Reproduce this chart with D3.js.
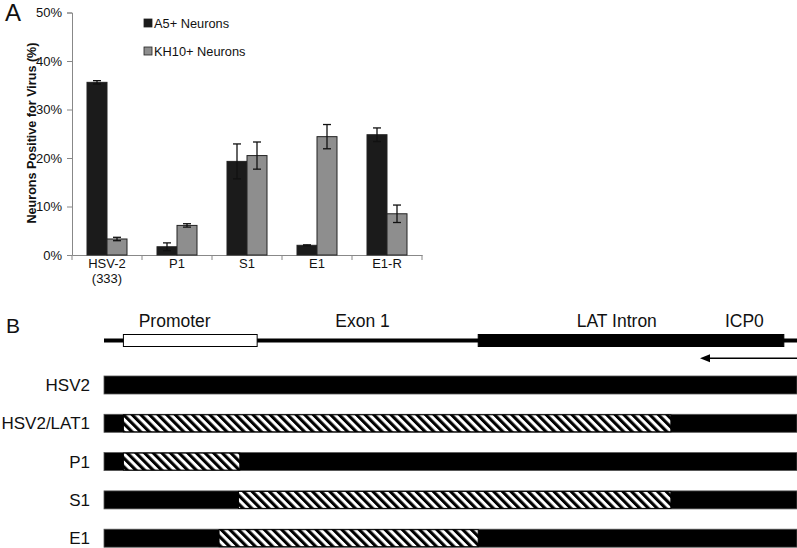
<!DOCTYPE html>
<html>
<head>
<meta charset="utf-8">
<script src="https://cdn.jsdelivr.net/npm/d3@7"></script>
<style>
  body { margin: 0; background: #fff; }
  text { font-family: "Liberation Sans", Arial, sans-serif; }
</style>
</head>
<body>
<svg width="797" height="548"></svg>
<script>
// panel A data
const viruses = ["HSV-2|(333)", "P1", "S1", "E1", "E1-R"];
const seriesNames = ["A5+ Neurons", "KH10+ Neurons"];
const a5Values = [35.6, 1.7, 19.3, 2.0, 24.8];
const a5Errors = [0.35, 0.8, 3.6, 0.1, 1.4];
const kh10Values = [3.3, 6.1, 20.5, 24.4, 8.5];
const kh10Errors = [0.35, 0.35, 2.8, 2.5, 1.8];
const yTicks = [0, 10, 20, 30, 40, 50];

// panel B data (map units 0-100)
const mapFeatures = [
  { name: "Promoter", start: 2.8, end: 22.1, fill: "#fff", label: 10.2 },
  { name: "LAT Intron", start: 54.0, end: 98.1, fill: "#000", label: 74.0 }
];
const mapLabels = [{ name: "Exon 1", pos: 37.3 }, { name: "ICP0", pos: 92.4 }];
const arrowSpan = [100, 86.0];
const constructs = ["HSV2", "HSV2/LAT1", "P1", "S1", "E1"];
const hatchStart = [null, 2.8, 2.8, 19.4, 16.6];
const hatchEnd = [null, 81.8, 19.6, 81.8, 54.0];

const svg = d3.select("svg");
const colors = ["#1b1b1b", "#8e8e8e"];

// ---------- panel A ----------
const x = d3.scaleBand().domain(viruses).range([72, 422]);
const xs = d3.scaleBand().domain(seriesNames).range([0, 40]);
const y = d3.scaleLinear().domain([0, 50]).range([255, 12.5]);

const gA = svg.append("g");

const yAxis = gA.append("g")
    .attr("transform", "translate(72,0)")
    .call(d3.axisLeft(y).tickValues(yTicks).tickSize(5).tickFormat(d => d + "%"));
const xAxis = gA.append("g")
    .attr("transform", "translate(0,255)")
    .call(d3.axisBottom(x).tickSize(0).tickFormat(""));
// tick marks between categories
xAxis.selectAll(".sep")
    .data(viruses.map(v => x(v)).concat([x.range()[1]]))
    .enter().append("line")
    .attr("x1", d => d).attr("x2", d => d)
    .attr("y1", 0).attr("y2", 5)
    .attr("stroke", "#888");
[yAxis, xAxis].forEach(a => {
  a.select(".domain").attr("stroke", "#888");
  a.selectAll(".tick line").attr("stroke", "#888");
  a.selectAll(".tick text").attr("font-size", 13).attr("fill", "#111");
});
yAxis.selectAll(".tick text").attr("x", -10);

// category labels (multi-line)
gA.selectAll(".xlab")
    .data(viruses)
    .enter().append("text")
    .attr("x", d => x(d) + x.bandwidth() / 2)
    .attr("y", 268)
    .attr("text-anchor", "middle")
    .attr("font-size", 13)
    .attr("fill", "#111")
    .each(function (d) {
      d.split("|").forEach((line, i) => {
        d3.select(this).append("tspan")
          .attr("x", x(d) + x.bandwidth() / 2)
          .attr("dy", i === 0 ? 0 : 15)
          .text(line);
      });
    });

const bars = [];
viruses.forEach((v, i) => {
  bars.push({ v, s: seriesNames[0], val: a5Values[i], err: a5Errors[i], c: colors[0] });
  bars.push({ v, s: seriesNames[1], val: kh10Values[i], err: kh10Errors[i], c: colors[1] });
});
const barX = d => x(d.v) + 15 + xs(d.s);

gA.selectAll(".bar")
    .data(bars)
    .enter().append("rect")
    .attr("x", barX)
    .attr("y", d => y(d.val))
    .attr("width", xs.bandwidth())
    .attr("height", d => y(0) - y(d.val))
    .attr("fill", d => d.c)
    .attr("stroke", "#222")
    .attr("stroke-width", 1);

const eb = gA.selectAll(".err").data(bars).enter().append("g")
    .attr("stroke", "#111").attr("stroke-width", 1.3);
eb.append("line")
    .attr("x1", d => barX(d) + xs.bandwidth() / 2).attr("x2", d => barX(d) + xs.bandwidth() / 2)
    .attr("y1", d => y(d.val + d.err)).attr("y2", d => y(d.val - d.err));
eb.append("line")
    .attr("x1", d => barX(d) + xs.bandwidth() / 2 - 4).attr("x2", d => barX(d) + xs.bandwidth() / 2 + 4)
    .attr("y1", d => y(d.val + d.err)).attr("y2", d => y(d.val + d.err));
eb.append("line")
    .attr("x1", d => barX(d) + xs.bandwidth() / 2 - 4).attr("x2", d => barX(d) + xs.bandwidth() / 2 + 4)
    .attr("y1", d => y(d.val - d.err)).attr("y2", d => y(d.val - d.err));

// legend
const leg = gA.selectAll(".leg").data(seriesNames).enter().append("g")
    .attr("transform", (d, i) => `translate(144,${19 + i * 28})`);
leg.append("rect").attr("width", 8).attr("height", 8)
    .attr("fill", (d, i) => colors[i]).attr("stroke", "#222").attr("stroke-width", 0.8);
leg.append("text").attr("x", 10).attr("y", 8.5).attr("font-size", 12.8).attr("fill", "#111").text(d => d);

// y label
gA.append("text")
    .attr("transform", "translate(36,133) rotate(-90)")
    .attr("text-anchor", "middle")
    .attr("font-size", 12.6)
    .attr("font-weight", "bold")
    .attr("fill", "#111")
    .text("Neurons Positive for Virus (%)");

svg.append("text").attr("x", 5).attr("y", 21).attr("font-size", 24)
    .attr("font-family", "Open Sans, sans-serif").attr("fill", "#111").text("A");
svg.append("text").attr("x", 6).attr("y", 333).attr("font-size", 21)
    .attr("font-family", "Open Sans, sans-serif").attr("fill", "#111").text("B");

// ---------- panel B ----------
const m = d3.scaleLinear().domain([0, 100]).range([104, 797]);
const rowY = d3.scaleBand().domain(constructs).range([376, 547.2]).paddingInner(0.53).paddingOuter(0);

const defs = svg.append("defs");
const pat = defs.append("pattern")
    .attr("id", "hatch")
    .attr("patternUnits", "userSpaceOnUse")
    .attr("width", 6.1).attr("height", 8)
    .attr("patternTransform", "rotate(-45)");
pat.append("rect").attr("width", 6.1).attr("height", 8).attr("fill", "#fff");
pat.append("rect").attr("width", 3.1).attr("height", 8).attr("fill", "#000");

const gB = svg.append("g");
// backbone line
gB.append("line")
    .attr("x1", m(0)).attr("x2", m(100))
    .attr("y1", 340.5).attr("y2", 340.5)
    .attr("stroke", "#000").attr("stroke-width", 4);
gB.selectAll(".feat").data(mapFeatures).enter().append("rect")
    .attr("x", d => m(d.start)).attr("y", 334.5)
    .attr("width", d => m(d.end) - m(d.start)).attr("height", 12)
    .attr("fill", d => d.fill).attr("stroke", "#000").attr("stroke-width", 1);
gB.selectAll(".flab").data(mapFeatures.map(d => ({ name: d.name, pos: d.label })).concat(mapLabels))
    .enter().append("text")
    .attr("x", d => m(d.pos)).attr("y", 327)
    .attr("text-anchor", "middle").attr("font-size", 17.5).attr("fill", "#111")
    .text(d => d.name);

// arrow pointing left
const ax0 = m(arrowSpan[0]), ax1 = m(arrowSpan[1]);
gB.append("line")
    .attr("x1", ax0).attr("x2", ax1 + 8)
    .attr("y1", 358.3).attr("y2", 358.3)
    .attr("stroke", "#000").attr("stroke-width", 1.4);
gB.append("path")
    .attr("d", `M${ax1},358.3 L${ax1 + 10},354.3 L${ax1 + 10},362.3 Z`)
    .attr("fill", "#000");

// construct rows
gB.selectAll(".row").data(constructs).enter().append("rect")
    .attr("x", m(0)).attr("y", d => rowY(d))
    .attr("width", m(100) - m(0)).attr("height", rowY.bandwidth())
    .attr("fill", "#000").attr("stroke", "#555").attr("stroke-width", 0.8);
gB.selectAll(".hatch").data(constructs.filter((d, i) => hatchStart[i] !== null)).enter().append("rect")
    .attr("x", d => m(hatchStart[constructs.indexOf(d)]))
    .attr("y", d => rowY(d) + 0.5)
    .attr("width", d => m(hatchEnd[constructs.indexOf(d)]) - m(hatchStart[constructs.indexOf(d)]))
    .attr("height", rowY.bandwidth() - 1)
    .attr("fill", "url(#hatch)").attr("stroke", "#000").attr("stroke-width", 1);
gB.selectAll(".rlab").data(constructs).enter().append("text")
    .attr("x", 90).attr("y", d => rowY(d) + rowY.bandwidth() / 2 + 6)
    .attr("text-anchor", "end").attr("font-size", 17).attr("fill", "#111")
    .text(d => d);
</script>
</body>
</html>
